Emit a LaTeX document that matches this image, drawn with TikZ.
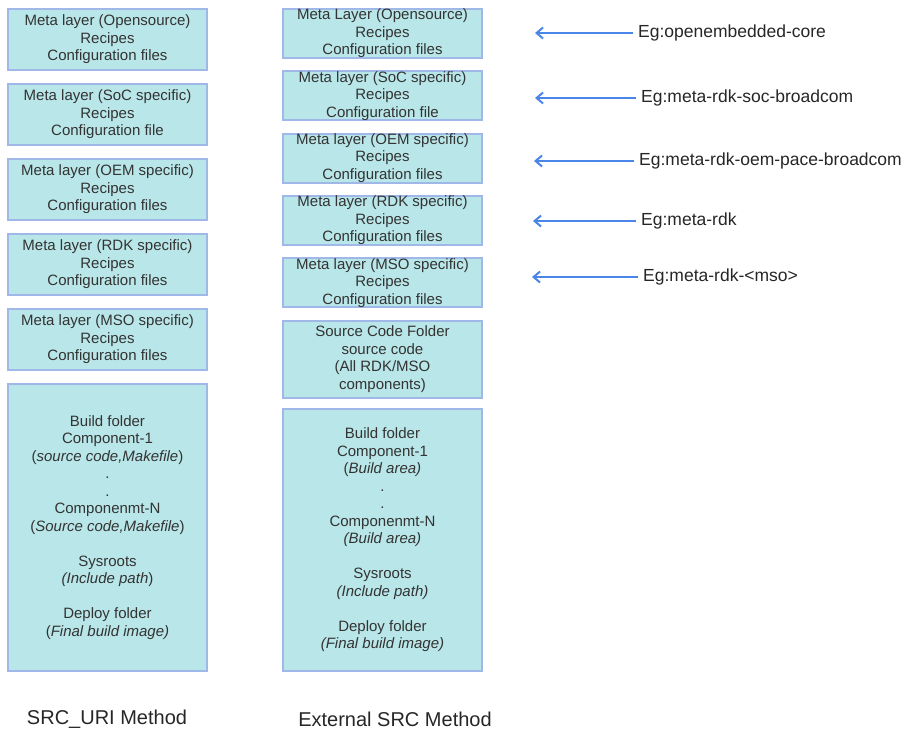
\documentclass[tikz,border=0pt]{standalone}
\usepackage{fontspec}
\setmainfont{Liberation Sans}
\usetikzlibrary{arrows.meta,positioning}
\definecolor{layerfill}{RGB}{185,230,232}
\definecolor{layerline}{RGB}{160,184,232}
\definecolor{pointer}{RGB}{74,134,232}
\tikzstyle{layer} = [draw=layerline, fill=layerfill, line width=2pt, rectangle, inner ysep=0pt, minimum width=199.5pt, minimum height=61pt, align=center, text=black!80, font=\fontsize{15}{17.5}\selectfont]
\tikzstyle{slim} = [layer, minimum height=48.7pt]
\tikzstyle{example} = [anchor=west, inner xsep=5pt, inner ysep=0pt, text=black!85, font=\fontsize{17.5}{20}\selectfont]
\tikzstyle{method} = [text=black!85, font=\fontsize{20}{24}\selectfont]

\begin{document}
\begin{tikzpicture}[x=1pt, y=-1pt, node distance=12pt, >={Straight Barb[length=6.5pt,width=11pt]}]
    % keep the page the same size as the original drawing
    \path[use as bounding box] (0,0) rectangle (901,732);

    % SRC_URI method, left column
    \node [layer] (uriopen) at (107.5,39.5) {Meta layer (Opensource)\\Recipes\\Configuration files};
    \node [layer, below=of uriopen] (urisoc) {Meta layer (SoC specific)\\Recipes\\Configuration file};
    \node [layer, below=of urisoc] (urioem) {Meta layer (OEM specific)\\Recipes\\Configuration files};
    \node [layer, below=of urioem] (urirdk) {Meta layer (RDK specific)\\Recipes\\Configuration files};
    \node [layer, below=of urirdk] (urimso) {Meta layer (MSO specific)\\Recipes\\Configuration files};
    \node [layer, minimum height=287pt, below=of urimso] (uribuild) {Build folder\\Component-1\\(\textit{source code,Makefile})\\.\\.\\Componenmt-N\\(\textit{Source code,Makefile})\\[17.5pt]Sysroots\\\textit{(Include path})\\[17.5pt]Deploy folder\\(\textit{Final build image)}};

    % External SRC method, right column (a little tighter)
    \begin{scope}[node distance=11.4pt]
    \node [slim] (extopen) at (382.5,33.3) {Meta Layer (Opensource)\\Recipes\\Configuration files};
    \node [slim, below=of extopen] (extsoc) {Meta layer (SoC specific)\\Recipes\\Configuration file};
    \node [slim, below=of extsoc] (extoem) {Meta layer (OEM specific)\\Recipes\\Configuration files};
    \node [slim, below=of extoem] (extrdk) {Meta layer (RDK specific)\\Recipes\\Configuration files};
    \node [slim, below=of extrdk] (extmso) {Meta layer (MSO specific)\\Recipes\\Configuration files};
    \node [layer, minimum height=77pt, below=of extmso] (extsrc) {Source Code Folder\\source code\\(All RDK/MSO\\components)};
    \node [layer, minimum height=261.3pt, below=9.5pt of extsrc] (extbuild) {Build folder\\Component-1\\(\textit{Build area)}\\.\\.\\Componenmt-N\\\textit{(Build area)}\\[17.5pt]Sysroots\\\textit{(Include path)}\\[17.5pt]Deploy folder\\\textit{(Final build image)}};
    \end{scope}

    % examples for each layer
    \node [example] (egcore) at (633,33) {Eg:openembedded-core};
    \node [example] (egsoc) at (636,98) {Eg:meta-rdk-soc-broadcom};
    \node [example] (egoem) at (634,161) {Eg:meta-rdk-oem-pace-broadcom};
    \node [example] (egrdk) at (636,221) {Eg:meta-rdk};
    \node [example] (egmso) at (638,277) {Eg:meta-rdk-<mso>};
    \coordinate (tipcore) at (535,33);
    \coordinate (tipsoc) at (535,98);
    \coordinate (tipoem) at (534,161);
    \coordinate (tiprdk) at (533,221);
    \coordinate (tipmso) at (532,277);

    \draw [->, pointer, line width=2pt] (egcore.west) -- (tipcore);
    \draw [->, pointer, line width=2pt] (egsoc.west) -- (tipsoc);
    \draw [->, pointer, line width=2pt] (egoem.west) -- (tipoem);
    \draw [->, pointer, line width=2pt] (egrdk.west) -- (tiprdk);
    \draw [->, pointer, line width=2pt] (egmso.west) -- (tipmso);

    \node [method] (urititle) at (107,719) {SRC\_URI Method};
    \node [method] (exttitle) at (395,719) {External SRC Method};
\end{tikzpicture}
\end{document}
